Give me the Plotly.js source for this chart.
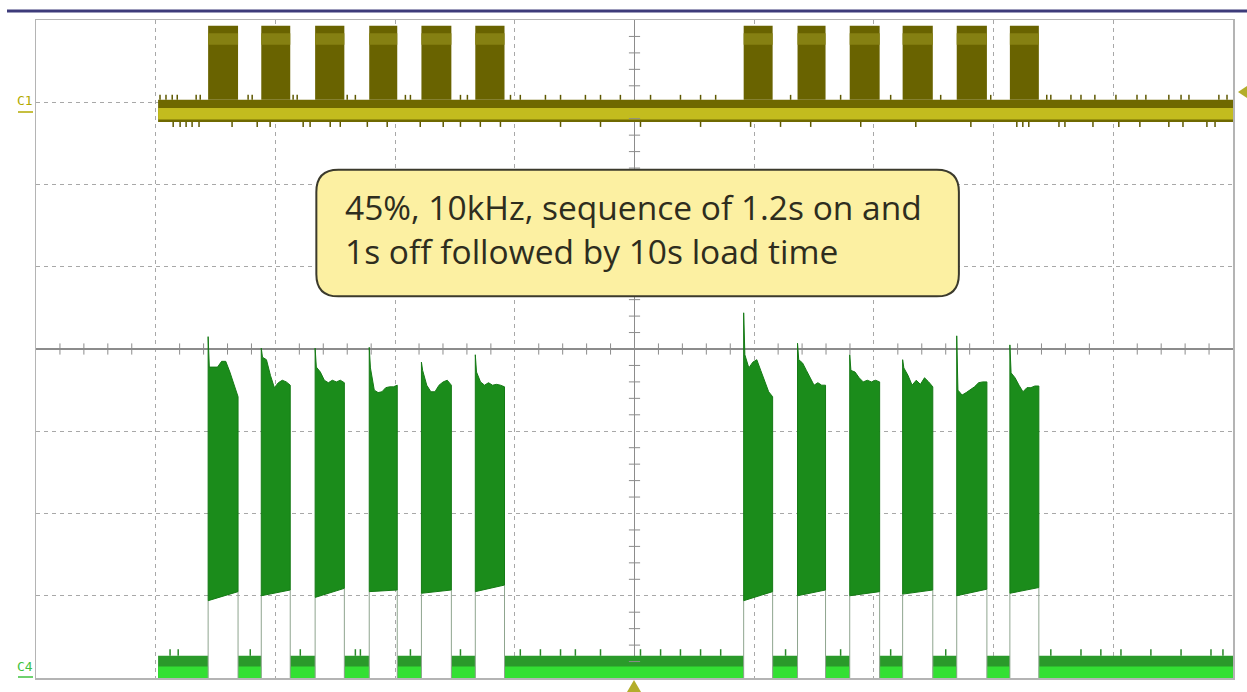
<!DOCTYPE html>
<html><head><meta charset="utf-8">
<script src="https://cdn.plot.ly/plotly-3.0.1.min.js"></script>
<style>html,body{margin:0;padding:0;background:#fff;}#chart{width:1247px;height:692px;}</style>
</head><body><div id="chart"></div>
<script>
// Horizontal: time in seconds (5 s/div, 10 div). Vertical: screen divisions (8 div).
const traceStart = -19.9;
const traceEnd = 25;
const burstStart = [-17.81, -15.59, -13.34, -11.08, -8.90, -6.65, 4.56, 6.81, 8.99, 11.20, 13.46, 15.68];
const burstEnd   = [-16.56, -14.38, -12.12, -9.91, -7.65, -5.43, 5.77, 7.98, 10.24, 12.46, 14.72, 16.89];

// Channel 1 (gate drive, yellow) levels
const c1Low = 2.76, c1BandTop = 3.03, c1High = 3.93;
const c1StripeLo = 2.79, c1StripeHi = 2.93;
const c1PulseStripeLo = 3.70, c1PulseStripeHi = 3.84;
const c1GlitchUp = [-19.82, -19.57, -19.31, -19.10, -18.31, -18.14, -16.14, -15.97, -14.26, -14.09, -12.00, -11.66,
  -9.57, -9.36, -7.27, -6.98, -5.18, -4.77, -3.72, -3.09, -2.05, -1.42, -0.59, 0.67, 1.92, 2.76, 3.39, 6.52, 8.61,
  10.70, 12.79, 14.88, 17.22, 17.39, 18.23, 18.65, 19.23, 20.11, 20.99, 21.36, 22.32, 22.83, 23.16, 24.41, 24.75];
const c1GlitchUpTo = 3.09;
const c1GlitchDown = [-19.27, -18.98, -18.73, -18.48, -18.19, -16.81, -15.76, -15.22, -13.84, -13.55, -12.71, -12.29,
  -11.16, -10.33, -8.95, -7.99, -7.27, -6.44, -5.60, -3.09, -1.42, 0.25, 2.76, 4.85, 6.10, 7.36, 9.45, 11.75, 14.05,
  15.97, 16.22, 16.47, 17.73, 17.98, 19.15, 20.23, 21.11, 22.32, 22.91, 23.91, 24.25];
const c1GlitchDownTo = 2.70;

// Channel 4 (load current, green) levels
const c4Ground = -4.0, c4NoiseTop = -3.73, c4NoiseMid = -3.86;
const c4Spikes = [-19.40, -19.06, -16.05, -13.96, -11.66, -11.45, -9.36, -7.27, -4.77, -3.93, -3.09, -2.47,
  -1.42, 0.25, 1.09, 1.92, 2.76, 3.60, 6.31, 8.61, 10.70, 13.00, 17.39, 18.65, 19.48, 20.32, 21.57, 22.83, 24.08, 24.58];
const c4SpikeTo = -3.65;
const c4Spike = [0.15, 0.01, 0.01, 0.02, -0.16, -0.07, 0.44, 0.07, -0.07, -0.13, 0.16, 0.05];
const c4Top = [
  [-0.22, -0.22, -0.22, -0.15, -0.15, -0.28, -0.44, -0.58],
  [-0.10, -0.13, -0.32, -0.47, -0.41, -0.38, -0.40, -0.44],
  [-0.22, -0.28, -0.38, -0.41, -0.38, -0.40, -0.38, -0.41],
  [-0.23, -0.50, -0.53, -0.52, -0.47, -0.46, -0.46, -0.44],
  [-0.26, -0.44, -0.52, -0.52, -0.44, -0.40, -0.38, -0.44],
  [-0.28, -0.40, -0.44, -0.41, -0.44, -0.43, -0.44, -0.46],
  [-0.07, -0.23, -0.16, -0.13, -0.26, -0.40, -0.52, -0.58],
  [-0.13, -0.17, -0.26, -0.35, -0.44, -0.41, -0.44, -0.44],
  [-0.26, -0.28, -0.35, -0.40, -0.38, -0.40, -0.38, -0.40],
  [-0.23, -0.32, -0.44, -0.38, -0.43, -0.35, -0.40, -0.46],
  [-0.50, -0.56, -0.53, -0.50, -0.46, -0.41, -0.40, -0.40],
  [-0.29, -0.35, -0.44, -0.52, -0.47, -0.47, -0.45, -0.45]
];
const c4LowL = [-3.06, -3.00, -3.02, -2.95, -2.97, -2.95, -3.06, -3.00, -3.00, -2.98, -3.00, -2.97];
const c4LowR = [-2.95, -2.93, -2.91, -2.93, -2.93, -2.87, -2.95, -2.93, -2.95, -2.93, -2.92, -2.90];

const noteText = '45%, 10kHz, sequence of 1.2s on and<br>1s off followed by 10s load time';
const c1Label = 'C1', c4Label = 'C4';

// ---- build traces ----
function rects(x0s, x1s, lo, hi) {
  const x = [], y = [];
  for (let i = 0; i < x0s.length; i++) {
    const l = Array.isArray(lo) ? lo[i] : lo, h = Array.isArray(hi) ? hi[i] : hi;
    x.push(x0s[i], x1s[i], x1s[i], x0s[i], x0s[i], null);
    y.push(l, l, h, h, l, null);
  }
  return {x, y};
}
function segs(xs, y0, y1) {
  const x = [], y = [];
  xs.forEach(v => { x.push(v, v, null); y.push(y0, y1, null); });
  return {x, y};
}
const traces = [];
const fillT = (d, color, line) => Object.assign({type: 'scatter', mode: 'lines', fill: 'toself', fillcolor: color,
  line: line || {width: 0, color: color}, hoverinfo: 'skip', showlegend: false}, d);

// C1 band
traces.push(fillT(rects([traceStart], [traceEnd], c1Low, c1BandTop), '#6f6900'));
traces.push(fillT(rects(burstStart, burstEnd, c1BandTop, c1High), '#696300'));
traces.push(fillT(rects(burstStart, burstEnd, c1PulseStripeLo, c1PulseStripeHi), '#858012'));
traces.push(fillT(rects([traceStart], [traceEnd], c1StripeLo, c1StripeHi), '#c3bc1e'));
const gu = segs(c1GlitchUp, c1BandTop, c1GlitchUpTo), gd = segs(c1GlitchDown, c1Low, c1GlitchDownTo);
traces.push({type: 'scatter', mode: 'lines', x: gu.x.concat(gd.x), y: gu.y.concat(gd.y),
  line: {color: '#5e5800', width: 1.5}, hoverinfo: 'skip', showlegend: false});

// C4 baseline noise between bursts
const offStart = [traceStart].concat(burstEnd);
const offEnd = burstStart.concat([traceEnd]);
traces.push(fillT(rects(offStart, offEnd, c4Ground, c4NoiseTop), '#2a9a2a'));
traces.push(fillT(rects(offStart, offEnd, c4Ground, c4NoiseMid), '#33e033'));
const sp = segs(c4Spikes, c4NoiseTop, c4SpikeTo);
traces.push({type: 'scatter', mode: 'lines', x: sp.x, y: sp.y, line: {color: '#2a8a2a', width: 1.5},
  hoverinfo: 'skip', showlegend: false});

// C4 bursts
const bx = [], by = [], ex = [], ey = [];
for (let i = 0; i < burstStart.length; i++) {
  const s = burstStart[i], e = burstEnd[i], prof = c4Top[i], n = prof.length;
  bx.push(s, s, s + 0.05);
  by.push(c4LowL[i], c4Spike[i], prof[0]);
  for (let k = 1; k < n; k++) { bx.push(s + 0.05 + (e - s - 0.05) * k / (n - 1)); by.push(prof[k]); }
  bx.push(e, s, null);
  by.push(c4LowR[i], c4LowL[i], null);
  ex.push(s, s, null, e, e, null);
  ey.push(c4Ground, c4LowL[i], null, c4Ground, c4LowR[i], null);
}
traces.push({type: 'scatter', mode: 'lines', x: ex, y: ey, line: {color: '#8fa58f', width: 1},
  hoverinfo: 'skip', showlegend: false});
traces.push(fillT({x: bx, y: by}, '#1b8c1b', {color: '#157a15', width: 1}));

// centre cross minor ticks
const tx = [], ty = [], ux = [], uy = [];
for (let k = -24; k <= 24; k++) { if (k % 5 !== 0) { tx.push(k); ty.push(0); } }
for (let k = -19; k <= 19; k++) { if (k % 5 !== 0) { ux.push(0); uy.push(k / 5); } }
traces.push({type: 'scatter', mode: 'markers', x: tx, y: ty, marker: {symbol: 'line-ns', size: 8,
  line: {color: '#8c8c8c', width: 1}}, hoverinfo: 'skip', showlegend: false});
traces.push({type: 'scatter', mode: 'markers', x: ux, y: uy, marker: {symbol: 'line-ew', size: 8,
  line: {color: '#8c8c8c', width: 1}}, hoverinfo: 'skip', showlegend: false});

// note box (rounded rectangle in data units)
const bx0 = -13.29, bx1 = 13.55, by0 = 0.64, by1 = 2.18, rx = 0.92, ry = 0.27;
const boxPath = `M ${bx0 + rx},${by1} L ${bx1 - rx},${by1} Q ${bx1},${by1} ${bx1},${by1 - ry} L ${bx1},${by0 + ry} ` +
  `Q ${bx1},${by0} ${bx1 - rx},${by0} L ${bx0 + rx},${by0} Q ${bx0},${by0} ${bx0},${by0 + ry} L ${bx0},${by1 - ry} ` +
  `Q ${bx0},${by1} ${bx0 + rx},${by1} Z`;

const W = 1197, H = 658, L = 36, T = 20;
const px = v => (v - L) / W, py = v => (T + H - v) / H;

const layout = {
  width: 1247, height: 692,
  margin: {l: L, r: 14, t: T, b: 14},
  paper_bgcolor: '#ffffff', plot_bgcolor: '#ffffff',
  showlegend: false,
  xaxis: {range: [-25, 25], dtick: 5, tick0: 0, showticklabels: false, ticks: '', showgrid: true,
    gridcolor: '#a8a8a8', griddash: '4px,4px', gridwidth: 1, zeroline: true, zerolinecolor: '#8c8c8c',
    zerolinewidth: 1.5, showline: true, mirror: true, linecolor: '#b4b4b4', linewidth: 1.5, fixedrange: true},
  yaxis: {range: [-4, 4], dtick: 1, tick0: 0, showticklabels: false, ticks: '', showgrid: true,
    gridcolor: '#a8a8a8', griddash: '4px,4px', gridwidth: 1, zeroline: true, zerolinecolor: '#8c8c8c',
    zerolinewidth: 1.5, showline: true, mirror: true, linecolor: '#b4b4b4', linewidth: 1.5, fixedrange: true},
  shapes: [
    {type: 'path', xref: 'x', yref: 'y', path: boxPath, fillcolor: '#fcf0a2', line: {color: '#3b3a2c', width: 2}},
    {type: 'line', xref: 'paper', yref: 'paper', x0: px(7), x1: px(1247), y0: py(11), y1: py(11),
      line: {color: '#3d3b7a', width: 3}},
    {type: 'path', xref: 'paper', yref: 'paper',
      path: `M ${px(1238)},${py(92)} L ${px(1247)},${py(86)} L ${px(1247)},${py(98)} Z`,
      fillcolor: '#b3ad2a', line: {width: 0}},
    {type: 'path', xref: 'paper', yref: 'paper',
      path: `M ${px(634)},${py(680)} L ${px(641)},${py(692)} L ${px(627)},${py(692)} Z`,
      fillcolor: '#b3ad2a', line: {width: 0}},
    {type: 'line', xref: 'paper', yref: 'paper', x0: px(18), x1: px(33), y0: py(112), y1: py(112),
      line: {color: '#b3aa00', width: 1.5}},
    {type: 'line', xref: 'paper', yref: 'paper', x0: px(18), x1: px(33), y0: py(677), y1: py(677),
      line: {color: '#3fc23f', width: 1.5}}
  ],
  annotations: [
    {xref: 'x', yref: 'y', x: -12.17, y: 1.46, xanchor: 'left', yanchor: 'middle', align: 'left',
      text: noteText, showarrow: false, font: {family: '"Open Sans", sans-serif', size: 33.5, color: '#2e2d1e'}},
    {xref: 'paper', yref: 'paper', x: px(25), y: py(101), xanchor: 'center', yanchor: 'middle', text: c1Label,
      showarrow: false, font: {family: '"DejaVu Sans Mono", monospace', size: 13, color: '#b3aa00'}},
    {xref: 'paper', yref: 'paper', x: px(25), y: py(666), xanchor: 'center', yanchor: 'middle', text: c4Label,
      showarrow: false, font: {family: '"DejaVu Sans Mono", monospace', size: 13, color: '#3fc23f'}}
  ]
};

Plotly.newPlot('chart', traces, layout, {displayModeBar: false, staticPlot: true});
</script>
</body></html>
